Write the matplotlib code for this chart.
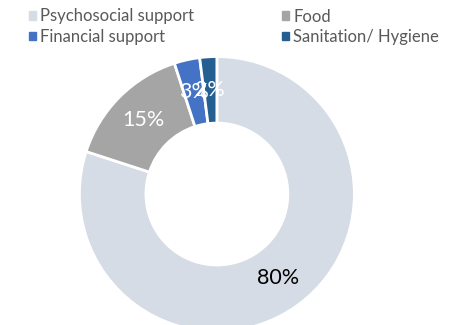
import matplotlib.pyplot as plt
from matplotlib.patches import Rectangle

labels = ["Psychosocial support", "Food", "Financial support", "Sanitation/ Hygiene"]
values = [80, 15, 3, 2]
colors = ["#D6DCE5", "#A5A5A5", "#4472C4", "#255E91"]
label_colors = ["black", "white", "white", "white"]

plt.rcParams["font.family"] = ["Lato", "DejaVu Sans"]

fig = plt.figure(figsize=(4.59, 3.25), dpi=100)
ax = fig.add_axes([0.173, -0.02, 0.599, 0.846])

wedges, texts, autotexts = ax.pie(
    values,
    colors=colors,
    startangle=90,
    counterclock=False,
    radius=1,
    wedgeprops=dict(width=0.484, edgecolor="white", linewidth=2),
    autopct="%d%%",
    pctdistance=0.758,
    textprops=dict(fontsize=15.5),
)
for t, c in zip(autotexts, label_colors):
    t.set_color(c)

ax.set_xlim(-1, 1)
ax.set_ylim(-1, 1)
ax.set_aspect("equal")

# legend is filled row by row in the reference, matplotlib fills by column
order = [0, 2, 1, 3]
handles = [Rectangle((0, 0), 1, 1, color=colors[i]) for i in order]
fig.legend(
    handles, [labels[i] for i in order],
    loc="upper left",
    bbox_to_anchor=(0.03, 1.02),
    ncol=2,
    frameon=False,
    fontsize=12,
    handlelength=0.42,
    handleheight=0.42,
    handletextpad=0.25,
    columnspacing=5.3,
    labelspacing=0.26,
    labelcolor="#595959",
)

fig.savefig("out.png", dpi=100)
